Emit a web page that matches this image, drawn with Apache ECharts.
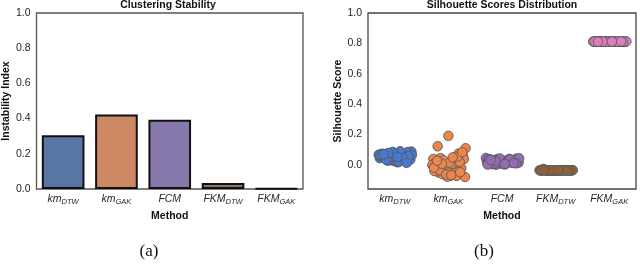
<!DOCTYPE html>
<html><head><meta charset="utf-8">
<script src="https://cdn.jsdelivr.net/npm/echarts@6/dist/echarts.min.js"></script>
<style>html,body{margin:0;padding:0;background:#fff}#c{width:640px;height:264px}</style>
</head><body><div id="c"></div>
<script>
// ---- data ----
const methods = ['km|DTW', 'km|GAK', 'FCM|', 'FKM|DTW', 'FKM|GAK'];
const instability = [0.305, 0.423, 0.394, 0.034, 0.004];
const leftTicks = [0, 0.2, 0.4, 0.6, 0.8, 1.0];
const rightTicks = [0, 0.2, 0.4, 0.6, 0.8, 1.0];
const jitter = [-0.28,0.12,-0.05,0.27,-0.18,0.04,0.31,-0.23,0.09,-0.11,0.19,-0.30,0.00,0.24,-0.15,0.14,-0.07,0.29,-0.20,0.06,-0.26,0.21,-0.02,0.32,-0.13,0.10,-0.09,0.17,-0.24,0.02,-0.16,0.26,-0.04,0.08,-0.27,0.15,-0.12,0.22,-0.21,0.05];
const silKmDTW = [0.045,0.070,0.030,0.082,0.055,0.020,0.088,0.060,0.038,0.075,0.050,0.068,0.025,0.085,0.042,0.064,0.078,0.035,0.072,0.018,0.058,0.048,0.080,0.066,0.028,0.090,0.052,0.040,0.074,0.062,0.034,0.058,0.086,0.022,0.066,0.047,0.079,0.014,0.069,0.053];
const silKmGAK = [0.040,-0.030,0.010,0.060,-0.050,-0.070,-0.079,0.020,0.035,-0.060,0.075,0.000,0.192,-0.020,0.045,-0.045,-0.010,0.040,0.123,0.005,-0.040,0.020,-0.077,0.110,-0.025,-0.055,0.030,0.055,-0.005,0.015,-0.035,0.085,-0.062,0.050,-0.018,-0.072,0.008,-0.048,0.028,-0.066];
const silFCM = [0.020,0.035,0.010,0.042,0.005,0.028,0.015,0.038,0.022,0.002,0.031,0.046,0.012,0.026,0.008,0.040,0.018,0.033,0.024,0.004,0.036,0.014,0.029,0.044,0.009,0.021,0.039,0.016,0.027,0.006,0.032,0.011,0.043,0.019,0.003,0.037,0.025,0.013,0.034,0.007];
const silFKMDTW = [-0.036,-0.035,-0.037,-0.034,-0.036,-0.038,-0.035,-0.026,-0.036,-0.034,-0.037,-0.035,-0.036,-0.034,-0.038,-0.035,-0.036,-0.037,-0.034,-0.035,-0.036,-0.035,-0.037,-0.034,-0.036,-0.035,-0.038,-0.034,-0.036,-0.035,-0.037,-0.035,-0.036,-0.034,-0.037,-0.036,-0.035,-0.038,-0.034,-0.036];
const silFKMGAK = [0.812,0.811,0.813,0.810,0.812,0.811,0.812,0.813,0.811,0.812,0.810,0.812,0.811,0.813,0.812,0.811,0.812,0.810,0.813,0.812,0.811,0.812,0.811,0.813,0.812,0.810,0.812,0.811,0.812,0.813,0.811,0.812,0.810,0.813,0.812,0.811,0.812,0.813,0.811,0.812];
const silGroups = [silKmDTW, silKmGAK, silFCM, silFKMDTW, silFKMGAK];

// ---- styles ----
const barColors = ['#5975a4', '#cc8963', '#8678aa', '#8b7a6b', '#d18fbd'];
const dotColors = ['#4878d0', '#ee854a', '#956cb4', '#8c613c', '#dc7ec0'];
const FONT = 'Liberation Sans';

const labelFmt = v => { const p = v.split('|'); return p[1] ? '{m|' + p[0] + '}{s|' + p[1] + '}' : '{m|' + p[0] + '}'; };
const richLab = {
  m: { fontSize: 10.5, fontStyle: 'italic', fontFamily: FONT, color: '#262626', lineHeight: 12 },
  s: { fontSize: 7.5, fontStyle: 'italic', fontFamily: FONT, color: '#262626', lineHeight: 8, padding: [5, 0, 0, 0] }
};
const yLab = { fontSize: 10.5, fontFamily: FONT, color: '#262626', margin: 6, formatter: v => v.toFixed(1) };
const nameStyle = { fontSize: 10.5, fontWeight: 'bold', fontFamily: FONT, color: '#111' };

const scatterSeries = silGroups.map((g, i) => ({
  type: 'scatter', xAxisIndex: 2, yAxisIndex: 1,
  symbolSize: 9.5,
  itemStyle: { color: dotColors[i], borderColor: '#5a5a5a', borderWidth: 0.9, opacity: 1 },
  data: g.map((v, k) => [i + jitter[k], v]),
  silent: true
}));

const chart = echarts.init(document.getElementById('c'), null, { renderer: 'canvas' });
chart.setOption({
  animation: false,
  backgroundColor: '#fff',
  grid: [
    { left: 33, top: 13, width: 270, height: 176, show: true, borderColor: '#555', borderWidth: 1.3, backgroundColor: 'transparent' },
    { left: 368, top: 13, width: 268, height: 176, show: true, borderColor: '#444', borderWidth: 1.3, backgroundColor: 'transparent' }
  ],
  xAxis: [
    { type: 'category', gridIndex: 0, data: methods, axisLine: { show: false }, axisTick: { show: false },
      axisLabel: { formatter: labelFmt, rich: richLab, margin: 4, interval: 0 },
      name: 'Method', nameLocation: 'middle', nameGap: 14, nameTextStyle: nameStyle },
    { type: 'category', gridIndex: 1, data: methods, axisLine: { show: false }, axisTick: { show: false },
      axisLabel: { formatter: labelFmt, rich: richLab, margin: 4, interval: 0 },
      name: 'Method', nameLocation: 'middle', nameGap: 14, nameTextStyle: nameStyle },
    { type: 'value', gridIndex: 1, min: -0.5, max: 4.5, show: false }
  ],
  yAxis: [
    { type: 'value', gridIndex: 0, min: 0, max: 1, interval: 0.2, splitLine: { show: false },
      axisLine: { show: false }, axisTick: { show: false }, axisLabel: yLab,
      name: 'Instability Index', nameLocation: 'middle', nameGap: 21, nameTextStyle: nameStyle },
    { type: 'value', gridIndex: 1, min: -0.158, max: 1.0, splitLine: { show: false },
      axisLine: { show: false }, axisTick: { show: false },
      axisLabel: Object.assign({}, yLab, { customValues: rightTicks }),
      name: 'Silhouette Score', nameLocation: 'middle', nameGap: 22, nameTextStyle: nameStyle }
  ],
  series: [
    { type: 'bar', xAxisIndex: 0, yAxisIndex: 0, barWidth: '80%', silent: true,
      data: instability.map((v, i) => ({ value: v, itemStyle: { color: barColors[i], borderColor: '#111', borderWidth: 2 } })) }
  ].concat(scatterSeries),
  graphic: [
    { type: 'text', x: 168, y: 5, style: { text: 'Clustering Stability', font: 'bold 10.5px "Liberation Sans"', fill: '#111', textAlign: 'center', textVerticalAlign: 'middle' } },
    { type: 'text', x: 502, y: 5, style: { text: 'Silhouette Scores Distribution', font: 'bold 10.5px "Liberation Sans"', fill: '#111', textAlign: 'center', textVerticalAlign: 'middle' } },
    { type: 'text', x: 149, y: 252, style: { text: '(a)', font: '17px "Liberation Serif"', fill: '#111', textAlign: 'center', textVerticalAlign: 'middle' } },
    { type: 'text', x: 484, y: 252, style: { text: '(b)', font: '17px "Liberation Serif"', fill: '#111', textAlign: 'center', textVerticalAlign: 'middle' } }
  ]
});
</script></body></html>
